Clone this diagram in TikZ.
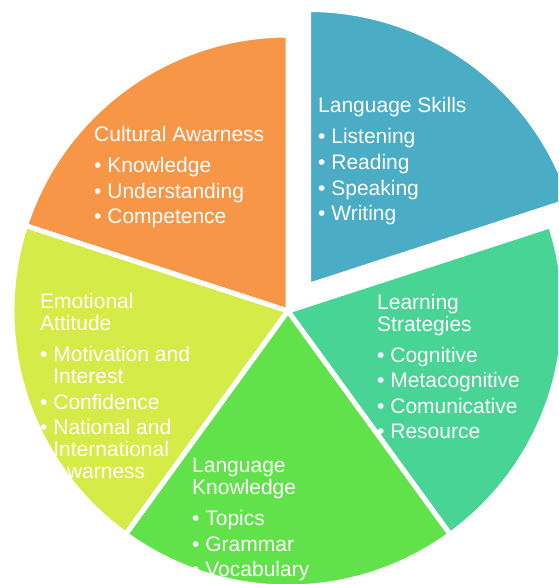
\documentclass[tikz,border=0pt]{standalone}
\usepackage{fontspec}
\setmainfont{Liberation Sans}
\usepackage{xcolor}
\usepackage{tikz}
\definecolor{skillblue}{HTML}{4BACC6}
\definecolor{cultorange}{HTML}{F79646}
\definecolor{stratteal}{HTML}{48D494}
\definecolor{knowgreen}{HTML}{62E24A}
\definecolor{emolime}{HTML}{D4EB48}
\newcommand{\itm}{\\[3.6pt]\textbullet\ }
\newcommand{\hang}{\\\hphantom{\textbullet\ }}

\begin{document}
\begin{tikzpicture}[x=1pt,y=1pt,
        slice/.style={draw=white, line width=5pt},
        txt/.style={text=white, inner sep=0pt, anchor=base west, align=left,
                font=\fontsize{21}{22}\selectfont}]
            \useasboundingbox (0,0) rectangle (558,584);
            \clip (0,0) rectangle (558,584);
            \coordinate (c) at (288,273);
            \coordinate (cx) at (308.5,298.5);
            \foreach \a/\b/\col in {90/162/cultorange,162/234/emolime,234/306/knowgreen,306/378/stratteal} {
                    \filldraw[slice, fill=\col] (c) -- ++(\a:276) arc[start angle=\a, end angle=\b, radius=276] -- cycle;
                }
            % pulled out piece
            \filldraw[slice, fill=skillblue] (cx) -- ++(18:276) arc[start angle=18, end angle=90, radius=276] -- cycle;

            % base = last line of each block
            \node[txt] (skills) at (318,363.3) {Language Skills\\[9pt]\textbullet\ Listening\itm Reading\itm Speaking\itm Writing};
            \node[txt] (culture) at (94,360) {Cultural Awarness\\[9pt]\textbullet\ Knowledge\itm Understanding\itm Competence};
            \node[txt] (strategies) at (377,145) {Learning\\Strategies\\[9pt]\textbullet\ Cognitive\itm Metacognitive\itm Comunicative\itm Resource};
            \node[txt] (attitude) at (40,105) {Emotional\\Attitude\\[9pt]\textbullet\ Motivation and\hang Interest\itm Confidence\itm National and\hang International\hang Awarness};
            \node[txt] (knowledge) at (192,7.3) {Language\\Knowledge\\[9pt]\textbullet\ Topics\itm Grammar\itm Vocabulary};
        \end{tikzpicture}
\end{document}
